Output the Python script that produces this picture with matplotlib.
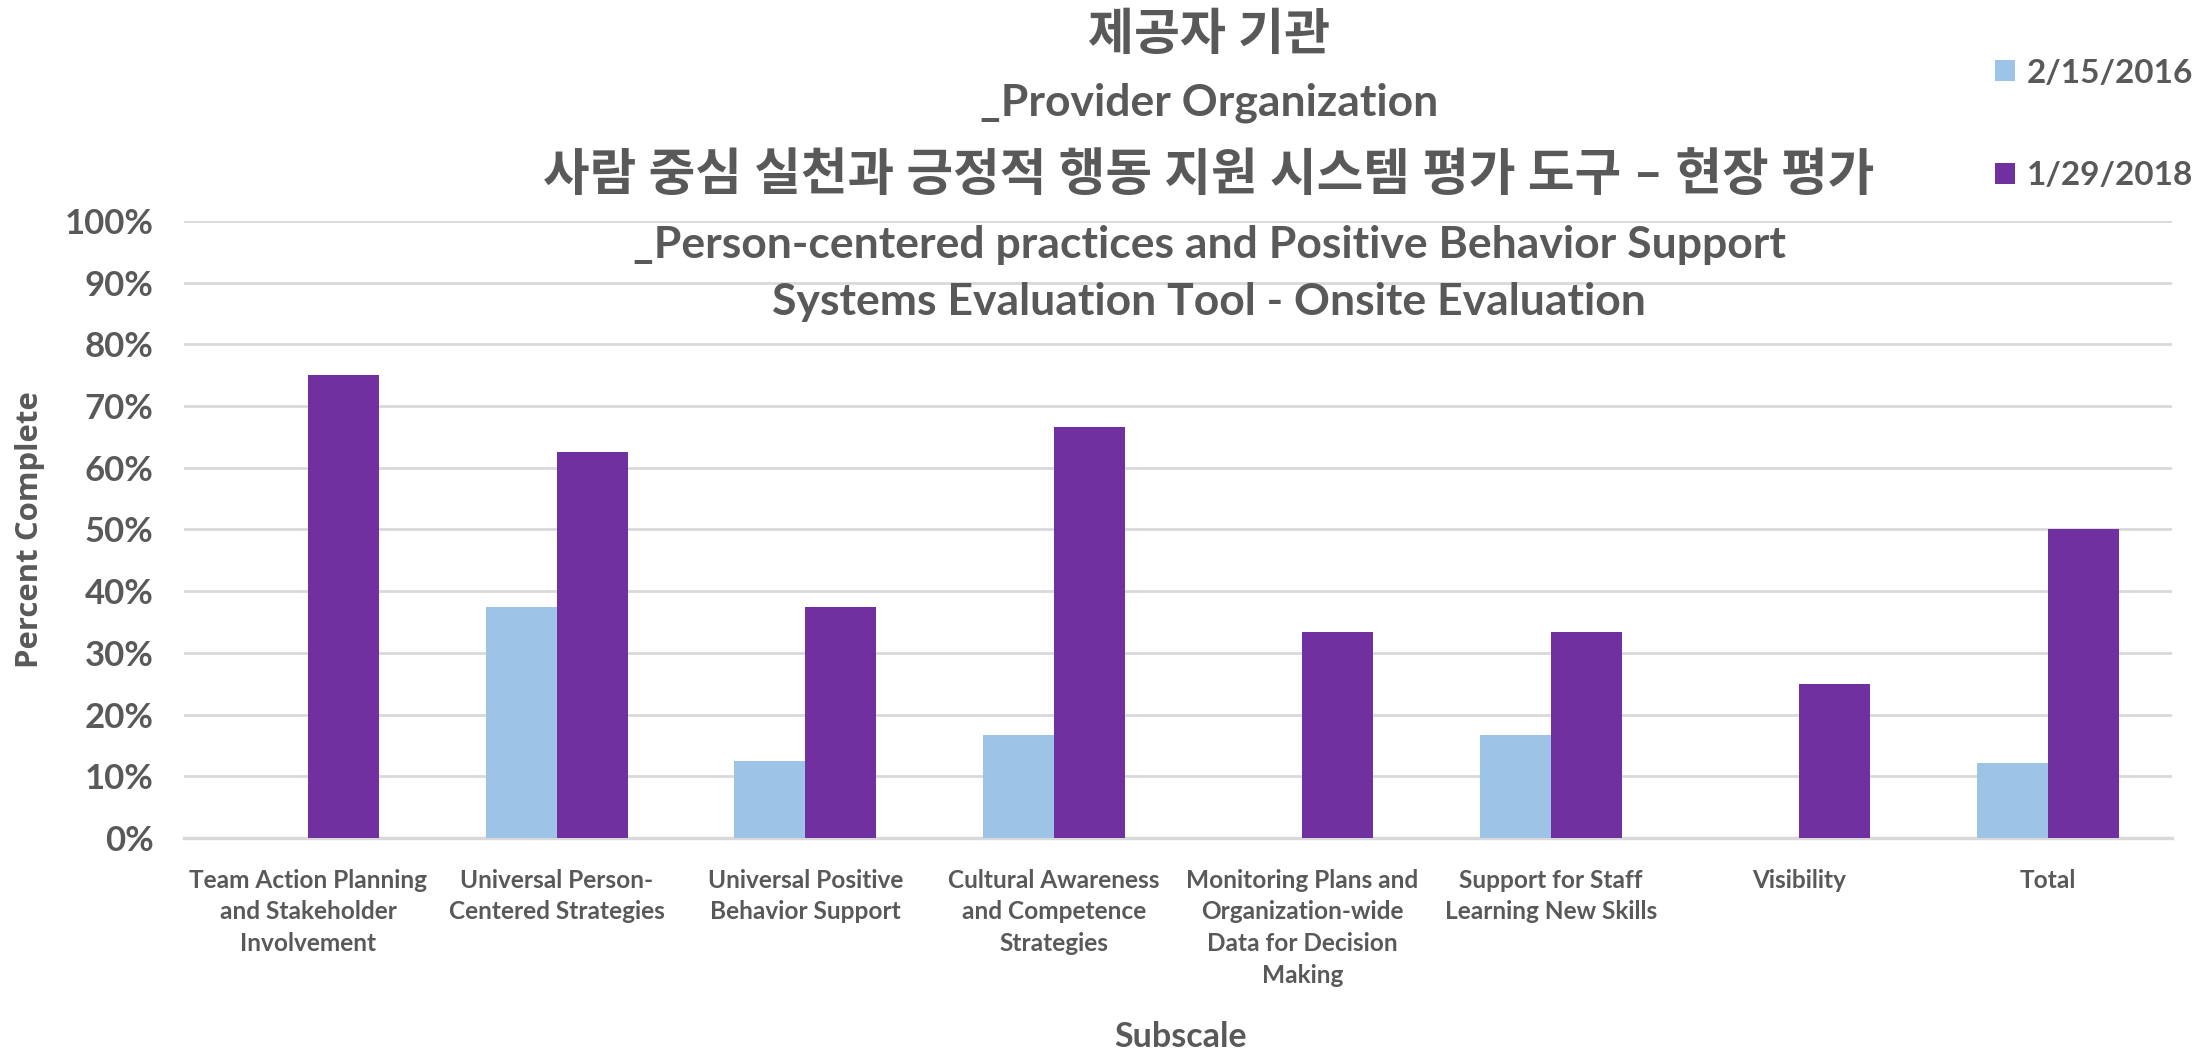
import matplotlib
matplotlib.use("Agg")
import matplotlib.pyplot as plt
from matplotlib.patches import Patch
import numpy as np

# data
categories = [
    "Team Action Planning\nand Stakeholder\nInvolvement",
    "Universal Person-\nCentered Strategies",
    "Universal Positive\nBehavior Support",
    "Cultural Awareness\nand Competence\nStrategies",
    "Monitoring Plans and\nOrganization-wide\nData for Decision\nMaking",
    "Support for Staff\nLearning New Skills",
    "Visibility",
    "Total",
]
series_names = ["2/15/2016", "1/29/2018"]
values_2016 = [0.0, 0.375, 0.125, 0.1667, 0.0, 0.1667, 0.0, 0.122]
values_2018 = [0.75, 0.625, 0.375, 0.6667, 0.3333, 0.3333, 0.25, 0.50]
yticks = np.arange(0, 1.01, 0.1)

title_lines = [
    "제공자 기관",
    "_Provider Organization",
    "사람 중심 실천과 긍정적 행동 지원 시스템 평가 도구 – 현장 평가",
    "_Person-centered practices and Positive Behavior Support",
    "Systems Evaluation Tool - Onsite Evaluation",
]

GRAY = "#595959"
LIGHT_BLUE = "#9DC3E6"
PURPLE = "#7030A0"
FONTS = ["Lato", "Noto Sans CJK KR", "DejaVu Sans"]

plt.rcParams["font.family"] = FONTS
plt.rcParams["font.weight"] = "bold"

fig = plt.figure(figsize=(22.04, 10.51), dpi=100)
ax = fig.add_axes([0.0835, 0.2027, 0.902, 0.587])

x = np.arange(len(categories))
w = 0.286
ax.bar(x - w / 2, values_2016, width=w, color=LIGHT_BLUE, zorder=3)
ax.bar(x + w / 2, values_2018, width=w, color=PURPLE, zorder=3)

ax.set_xlim(-0.5, len(categories) - 0.5)
ax.set_ylim(0, 1.0)
ax.set_yticks(yticks)
ax.set_yticklabels([f"{int(round(t * 100))}%" for t in yticks])
ax.yaxis.grid(True, color="#D9D9D9", linewidth=2, zorder=0)
ax.set_axisbelow(True)
for side in ["left", "right", "top"]:
    ax.spines[side].set_visible(False)
ax.spines["bottom"].set_color("#D9D9D9")
ax.spines["bottom"].set_linewidth(2.5)

ax.set_xticks(x)
ax.set_xticklabels(categories, linespacing=1.47, va="top")
ax.tick_params(axis="x", length=0, pad=22, labelsize=17.6, labelcolor=GRAY)
ax.tick_params(axis="y", length=0, pad=22, labelsize=25, labelcolor=GRAY)

ax.set_ylabel("Percent Complete", family=["Open Sans", "DejaVu Sans"],
              fontsize=22.4, fontweight="bold", color=GRAY)
ax.yaxis.set_label_coords(-0.070, 0.5)

fig.text(0.5355, 14 / 1051, "Subscale", ha="center", va="center",
         fontsize=24.5, fontweight="bold", color=GRAY)

# title, one line at a time
title_y = [1051 - 35, 1051 - 103, 1051 - 175, 1051 - 245, 1051 - 302]
title_size = [36, 32, 36.5, 32, 32]
for line, yy, sz in zip(title_lines, title_y, title_size):
    fig.text(0.5486, yy / 1051, line, ha="center", va="center",
             fontsize=sz, fontweight="bold", color=GRAY)

handles = [Patch(facecolor=LIGHT_BLUE), Patch(facecolor=PURPLE)]
leg = fig.legend(handles, series_names, loc="upper left",
                 bbox_to_anchor=(0.899, 0.957), frameon=False,
                 fontsize=24, handlelength=0.6, handleheight=0.6,
                 handletextpad=0.35, labelspacing=2.2, borderaxespad=0)
for t in leg.get_texts():
    t.set_color(GRAY)

fig.savefig("out.png", dpi=100)
